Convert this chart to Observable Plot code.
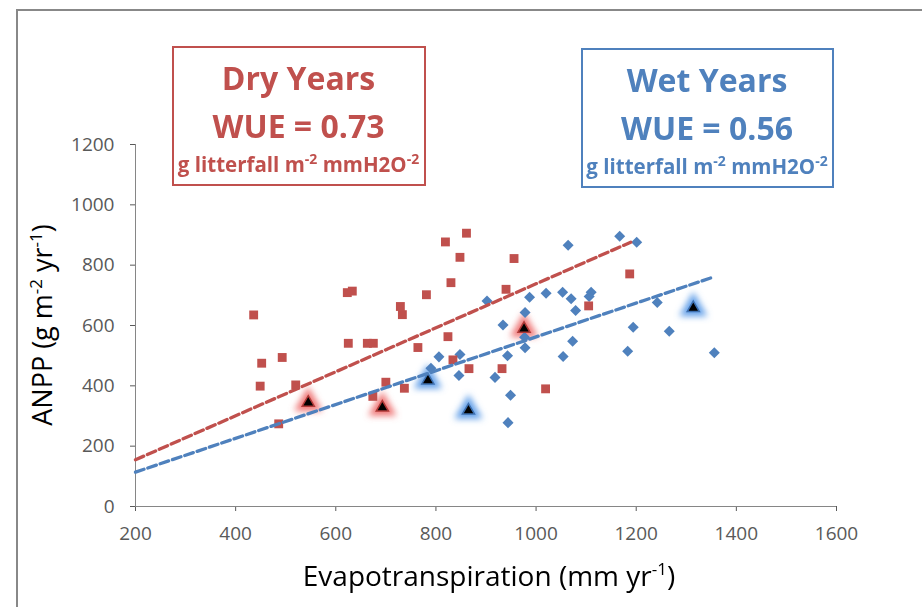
<!DOCTYPE html>
<html><head><meta charset="utf-8">
<script src="https://cdn.jsdelivr.net/npm/d3@7"></script>
<script src="https://cdn.jsdelivr.net/npm/@observablehq/plot@0.6"></script>
<style>
html,body{margin:0;padding:0;background:#fff;}
#wrap{position:relative;width:922px;height:607px;overflow:hidden;}
#frame{position:absolute;left:16px;top:9px;width:1000px;height:700px;border-left:2px solid #888;border-top:2px solid #888;}
#chart{position:absolute;left:0;top:0;}
</style></head><body><div id="wrap"><div id="frame"></div><div id="chart"></div></div>
<script>
// ---- data ----
const dryET   = [436, 452, 493, 449, 520, 486, 623, 633, 625, 663, 675, 729, 733, 764, 700, 674, 737, 861, 819, 848, 956, 830, 781, 940, 1105, 824, 834, 866, 932, 1019, 1187];
const dryANPP = [635, 475, 494, 399, 403, 274, 709, 714, 541, 541, 541, 663, 636, 527, 412, 365, 392, 906, 877, 826, 822, 742, 702, 720, 665, 563, 486, 457, 457, 390, 771];
const wetET   = [1064, 902, 987, 1020, 1053, 1070, 1110, 1106, 1079, 978, 934, 977, 978, 943, 1073, 1054, 806, 848, 790, 846, 918, 949, 944, 1167, 1201, 1242, 1194, 1266, 1183, 1356];
const wetANPP = [866, 681, 694, 707, 710, 689, 710, 696, 650, 643, 602, 561, 526, 500, 548, 497, 496, 504, 458, 434, 428, 369, 278, 896, 876, 676, 594, 581, 515, 510];
const dryHiET = [545, 693, 976];
const dryHiANPP = [344, 328, 589];
const wetHiET = [784, 865, 1314];
const wetHiANPP = [418, 318, 658];
const dryFitET = [200, 1189];
const dryFitANPP = [155, 876];
const wetFitET = [200, 1353];
const wetFitANPP = [114, 760];
const xTicks = [200, 400, 600, 800, 1000, 1200, 1400, 1600];
const yTicks = [0, 200, 400, 600, 800, 1000, 1200];

const RED = "#C0504D", BLUE = "#4F81BD";
const FONT = "'Open Sans', Lato, sans-serif";
const rows = (xs, ys) => xs.map((x, i) => ({x, y: ys[i]}));
const dry = rows(dryET, dryANPP), wet = rows(wetET, wetANPP);
const dryHi = rows(dryHiET, dryHiANPP), wetHi = rows(wetHiET, wetHiANPP);
const dryFit = rows(dryFitET, dryFitANPP), wetFit = rows(wetFitET, wetFitANPP);

const diamond = {draw(ctx, size) { const h = Math.sqrt(size / 2); ctx.moveTo(0, -h); ctx.lineTo(h, 0); ctx.lineTo(0, h); ctx.lineTo(-h, 0); ctx.closePath(); }};

const plot = Plot.plot({
  width: 922, height: 607,
  marginLeft: 135, marginRight: 86, marginTop: 144, marginBottom: 101,
  style: {fontFamily: FONT, fontSize: "19px", color: "#595959", background: "transparent"},
  x: {domain: [200, 1600], ticks: xTicks, tickSize: 5, tickPadding: 15, tickFormat: d => String(d), label: null},
  y: {domain: [0, 1200], ticks: yTicks, tickSize: 5, tickPadding: 16, tickFormat: d => String(d), label: null},
  marks: [
    Plot.ruleX([200], {stroke: "#868686"}),
    Plot.ruleY([0], {stroke: "#868686"}),
    Plot.dot(dryHi, {x: "x", y: "y", symbol: "triangle", r: 10.5, fill: "#EE7070", fillOpacity: 0.95, ariaLabel: "glow-dry"}),
    Plot.dot(wetHi, {x: "x", y: "y", symbol: "triangle", r: 10.5, fill: "#5C9CE8", fillOpacity: 0.95, ariaLabel: "glow-wet"}),
    Plot.dot(wet, {x: "x", y: "y", symbol: diamond, r: 4.4, fill: BLUE}),
    Plot.dot(dry, {x: "x", y: "y", symbol: "square", r: 5, fill: RED}),
    Plot.dot(dryHi, {x: "x", y: "y", symbol: "triangle", r: 4.5, fill: "#000", stroke: "#B03A38", strokeWidth: 1.5}),
    Plot.dot(wetHi, {x: "x", y: "y", symbol: "triangle", r: 4.5, fill: "#000", stroke: "#3E70B0", strokeWidth: 1.5}),
    Plot.line(dryFit, {x: "x", y: "y", stroke: RED, strokeWidth: 3.3, strokeDasharray: "9,4"}),
    Plot.line(wetFit, {x: "x", y: "y", stroke: BLUE, strokeWidth: 3.3, strokeDasharray: "9,4"})
  ]
});
document.getElementById("chart").appendChild(plot);

const svg = d3.select(plot);
// soft glow behind the highlighted years
const defs = svg.insert("defs", ":first-child");
defs.append("filter").attr("id", "glowBlur").attr("filterUnits", "userSpaceOnUse")
  .attr("x", 0).attr("y", 0).attr("width", 922).attr("height", 607)
  .append("feGaussianBlur").attr("stdDeviation", 3.2);
let glowGroups = ["glow-dry", "glow-wet"].map(l => plot.querySelector(`g[aria-label="${l}"]`)).filter(Boolean);
if (glowGroups.length < 2) {
  const dots = plot.querySelectorAll('g[aria-label="dot"]');
  glowGroups = [dots[0], dots[1]].filter(Boolean);
}
glowGroups.forEach(g => g.setAttribute("filter", "url(#glowBlur)"));

// text boxes
function box(cx, x, y, w, h, color, title, wue) {
  svg.append("rect").attr("x", x).attr("y", y).attr("width", w).attr("height", h)
    .attr("fill", "none").attr("stroke", color).attr("stroke-width", 2);
  const t = svg.append("g").attr("fill", color).attr("font-family", FONT).attr("font-weight", "bold").attr("text-anchor", "middle");
  t.append("text").attr("x", cx).attr("y", y + 43).attr("font-size", 32).text(title);
  t.append("text").attr("x", cx).attr("y", y + 91).attr("font-size", 32).text(wue);
  const u = t.append("text").attr("x", cx).attr("y", y + 125).attr("font-size", 20.5);
  u.append("tspan").text("g litterfall m");
  u.append("tspan").attr("dy", -8).attr("font-size", 14).text("-2");
  u.append("tspan").attr("dy", 8).text(" mmH2O");
  u.append("tspan").attr("dy", -8).attr("font-size", 14).text("-2");
}
box(298.5, 173, 47, 252, 138, RED, "Dry Years", "WUE = 0.73");
box(707, 582, 49, 251, 138, BLUE, "Wet Years", "WUE = 0.56");

// axis titles
const xt = svg.append("text").attr("x", 489).attr("y", 586).attr("text-anchor", "middle")
  .attr("font-family", FONT).attr("font-size", 28).attr("fill", "#000");
xt.append("tspan").text("Evapotranspiration (mm yr");
xt.append("tspan").attr("dy", -11).attr("font-size", 17).text("-1");
xt.append("tspan").attr("dy", 11).text(")");

const yt = svg.append("text").attr("transform", "translate(52,325) rotate(-90)").attr("text-anchor", "middle")
  .attr("font-family", FONT).attr("font-size", 27).attr("fill", "#000");
yt.append("tspan").text("ANPP (g m");
yt.append("tspan").attr("dy", -10).attr("font-size", 17).text("-2");
yt.append("tspan").attr("dy", 10).text(" yr");
yt.append("tspan").attr("dy", -10).attr("font-size", 17).text("-1");
yt.append("tspan").attr("dy", 10).text(")");
</script>
</body></html>
